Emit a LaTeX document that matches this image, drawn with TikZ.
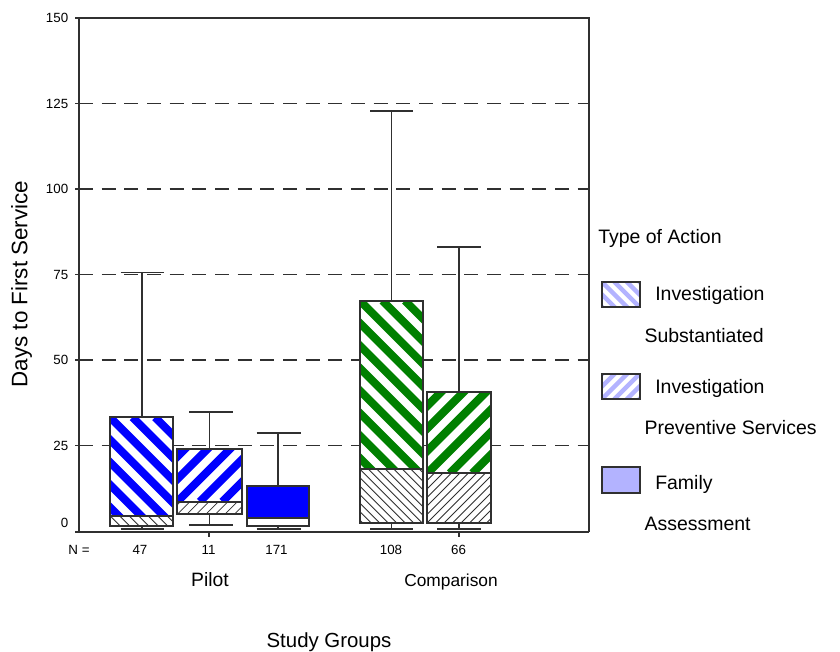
\documentclass[tikz,border=0pt]{standalone}
\usepackage{fontspec}
\setmainfont{Liberation Sans}
\definecolor{ink}{HTML}{303030}
\definecolor{pblue}{HTML}{0000FF}
\definecolor{pgreen}{HTML}{008000}
\definecolor{lblue}{HTML}{B3B3FF}
\newcommand\hatchDown[7]{%
  \begin{scope}
    \clip (#1,#2) rectangle (#3,#4);
    \fill[white] (#1,#2) rectangle (#3,#4);
    \foreach \k in {-45,...,10}{\draw[#5,line width=#6] ({#1+\k*#7},#2) -- ++(600,600);}
  \end{scope}}
\newcommand\hatchUp[7]{%
  \begin{scope}
    \clip (#1,#2) rectangle (#3,#4);
    \fill[white] (#1,#2) rectangle (#3,#4);
    \foreach \k in {-45,...,10}{\draw[#5,line width=#6] ({#1+\k*#7},#4) -- ++(600,-600);}
  \end{scope}}
\begin{document}
\begin{tikzpicture}[x=0.75pt,y=-0.75pt,
  ln/.style={draw=ink,line width=1.35pt},
  gridln/.style={draw=ink,line width=1.35pt,dash pattern=on 10.5pt off 6.5pt},
  ticklab/.style={font=\fontsize{10}{12}\selectfont,anchor=east,inner sep=0pt},
  nlab/.style={font=\fontsize{10}{12}\selectfont,inner sep=0pt},
  leglab/.style={font=\fontsize{14.6}{17}\selectfont,anchor=base west,inner sep=0pt}]
\useasboundingbox (0,0) rectangle (840,652);
\fill[white] (0,0) rectangle (840,652);
% grid
\foreach \v in {25,50,75,100,125}{\draw[gridln] (79,{531-3.42*\v}) -- (589,{531-3.42*\v});}
% tick labels
\foreach \v in {150,125,100,75,50,25}{
  \node[ticklab] (t\v) at (68.5,{531-3.42*\v}) {\v};
  \draw[ln] (75,{531-3.42*\v}) -- (79,{531-3.42*\v});}
\node[ticklab] (t0) at (68.5,523) {0};
% Box 1 (Pilot, 47)
\hatchDown{110}{417.3}{173.3}{515.7}{pblue}{6pt}{22.5}
\hatchDown{110}{515.7}{173.3}{525.7}{ink}{0.6pt}{9.5}
\draw[ln] (110,417.3) rectangle (173.3,525.7) (110,515.7) -- (173.3,515.7);
\draw[ln] (141.7,417.3) -- (141.7,272.5) (120.7,272.5) -- (164,272.5)
          (141.7,525.7) -- (141.7,529.3) (120.7,529.3) -- (164,529.3);
% Box 2 (Pilot, 11)
\hatchUp{177.3}{449.3}{241.7}{501.7}{pblue}{6pt}{22.5}
\hatchUp{177.3}{501.7}{241.7}{514.3}{ink}{0.6pt}{9.5}
\draw[ln] (177.3,449.3) rectangle (241.7,514.3) (177.3,501.7) -- (241.7,501.7);
\draw[ln] (209.5,449.3) -- (209.5,411.7) (189,411.7) -- (233,411.7)
          (209.5,514.3) -- (209.5,525) (189,525) -- (233,525);
% Box 3 (Pilot, 171)
\fill[pblue] (246.7,486) rectangle (309.3,518.3);
\fill[white] (246.7,518.3) rectangle (309.3,525.7);
\draw[ln] (246.7,486) rectangle (309.3,525.7) (246.7,518.3) -- (309.3,518.3);
\draw[ln] (278,486) -- (278,432.7) (256.7,432.7) -- (300.7,432.7)
          (278,525.7) -- (278,529.3) (256.7,529.3) -- (300.7,529.3);
% Box 4 (Comparison, 108)
\hatchDown{360}{300.7}{423}{469.3}{pgreen}{6pt}{22.5}
\hatchDown{360}{469.3}{423}{522.7}{ink}{0.6pt}{8.5}
\draw[ln] (360,300.7) rectangle (423,522.7) (360,469.3) -- (423,469.3);
\draw[ln] (391.5,300.7) -- (391.5,111) (370,111) -- (413,111)
          (391.5,522.7) -- (391.5,529.3) (370,529.3) -- (413,529.3);
% Box 5 (Comparison, 66)
\hatchUp{427.3}{392.3}{491}{473.3}{pgreen}{6pt}{22.5}
\hatchUp{427.3}{473.3}{491}{522.7}{ink}{0.6pt}{8.5}
\draw[ln] (427.3,392.3) rectangle (491,522.7) (427.3,473.3) -- (491,473.3);
\draw[ln] (459.2,392.3) -- (459.2,247) (437,247) -- (481,247)
          (459.2,522.7) -- (459.2,529.3) (437,529.3) -- (481,529.3);
% frame and axes
\draw[ln] (75,18) -- (589,18) -- (589,532.3);
\draw[ln] (79,18) -- (79,532.3);
\draw[ln] (75,532.3) -- (589,532.3);
\draw[ln] (209.3,532.3) -- (209.3,537) (459.3,532.3) -- (459.3,537);
% axis title
\node[font=\fontsize{16.8}{20}\selectfont,rotate=90,inner sep=0pt] (ylab) at (21.5,284) {Days to First Service};
% N labels
\node[nlab] (nn) at (79,550) {N =};
\node[nlab] (n47) at (140,550) {47};
\node[nlab] (n11) at (208.5,550) {11};
\node[nlab] (n171) at (276.5,550) {171};
\node[nlab] (n108) at (391,550) {108};
\node[nlab] (n66) at (458.5,550) {66};
\node[font=\fontsize{14.5}{17}\selectfont,anchor=base,inner sep=0pt] (pilot) at (210,586) {Pilot};
\node[font=\fontsize{13}{16}\selectfont,anchor=base,inner sep=0pt] (comp) at (451,586) {Comparison};
\node[font=\fontsize{15.3}{18}\selectfont,anchor=base,inner sep=0pt] (xlab) at (329,647) {Study Groups};
% legend
\node[leglab] (legt) at (598,244) {Type of Action};
\hatchDown{601.7}{281.7}{640}{306.7}{lblue}{3.4pt}{12.5}
\draw[ln] (601.7,281.7) rectangle (640,306.7);
\node[leglab] (l1a) at (655,301) {Investigation};
\node[leglab] (l1b) at (644.3,343) {Substantiated};
\hatchUp{601.7}{374.3}{640}{399.3}{lblue}{3.4pt}{12.5}
\draw[ln] (601.7,374.3) rectangle (640,399.3);
\node[leglab] (l2a) at (655,393.7) {Investigation};
\node[leglab] (l2b) at (644.3,435) {Preventive Services};
\fill[lblue] (601.7,467.3) rectangle (640,492.7);
\draw[ln] (601.7,467.3) rectangle (640,492.7);
\node[leglab] (l3a) at (655,489.3) {Family};
\node[leglab] (l3b) at (644.3,531) {Assessment};
\end{tikzpicture}
\end{document}
